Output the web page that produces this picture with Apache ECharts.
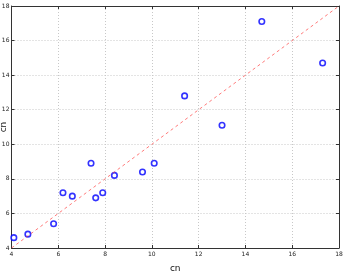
<!DOCTYPE html>
<html><head><meta charset="utf-8">
<script src="https://cdn.jsdelivr.net/npm/echarts@6/dist/echarts.min.js"></script>
<style>html,body{margin:0;padding:0;background:#fff}#c{width:345px;height:271px}</style>
</head><body><div id="c"></div>
<script>
const xValues = [4.1, 4.7, 5.8, 6.2, 6.6, 7.4, 7.6, 7.9, 8.4, 9.6, 10.1, 11.4, 13.0, 14.7, 17.3];
const yValues = [4.6, 4.8, 5.4, 7.2, 7.0, 8.9, 6.9, 7.2, 8.2, 8.4, 8.9, 12.8, 11.1, 17.1, 14.7];
const diagLine = [[4, 4], [18, 18]];
const tickValues = [4, 6, 8, 10, 12, 14, 16, 18];
const xTitle = 'cn';
const yTitle = 'cn';

const chart = echarts.init(document.getElementById('c'));
const labelStyle = {fontSize: 6, color: '#222', fontFamily: 'DejaVu Sans'};
const gridLine = {show: true, lineStyle: {color: '#c8c8c8', type: [1, 2], width: 1}};
function mainAxis(name, isY) {
  return {
    type: 'value', min: 4, max: 18, interval: 2,
    name: name, nameLocation: 'middle', nameGap: isY ? 3 : 16, nameMoveOverlap: false,
    nameTextStyle: {fontSize: 9, color: '#111', fontFamily: 'DejaVu Sans'},
    axisLine: {show: true, lineStyle: {color: '#333', width: 1}},
    axisTick: {show: true, inside: true, length: 3, lineStyle: {color: '#333'}},
    axisLabel: Object.assign({margin: isY ? 2 : 3, showMinLabel: true, showMaxLabel: true,
      formatter: v => tickValues.includes(v) ? String(v) : ''}, labelStyle),
    splitLine: gridLine
  };
}
function sideAxis(pos) {
  return {
    type: 'value', min: 4, max: 18, interval: 2, position: pos,
    axisLine: {show: true, onZero: false, lineStyle: {color: '#333', width: 1}},
    axisTick: {show: true, inside: true, length: 3, lineStyle: {color: '#333'}},
    axisLabel: {show: false}, splitLine: {show: false}
  };
}
chart.setOption({
  animation: false,
  grid: {left: 11.5, right: 6, top: 6, bottom: 23, outerBoundsMode: 'none', containLabel: false},
  xAxis: [mainAxis(xTitle, false), sideAxis('top')],
  yAxis: [mainAxis(yTitle, true), sideAxis('right')],
  series: [
    {type: 'line', data: diagLine, symbol: 'none', silent: true,
     lineStyle: {color: 'rgba(255,60,60,0.85)', width: 0.8, type: [3, 3]}},
    {type: 'scatter', data: xValues.map((x, i) => [x, yValues[i]]),
     symbol: 'circle', symbolSize: 5.5,
     itemStyle: {color: '#fff', borderColor: '#0000ff', borderWidth: 1.6}}
  ]
});
</script></body></html>
